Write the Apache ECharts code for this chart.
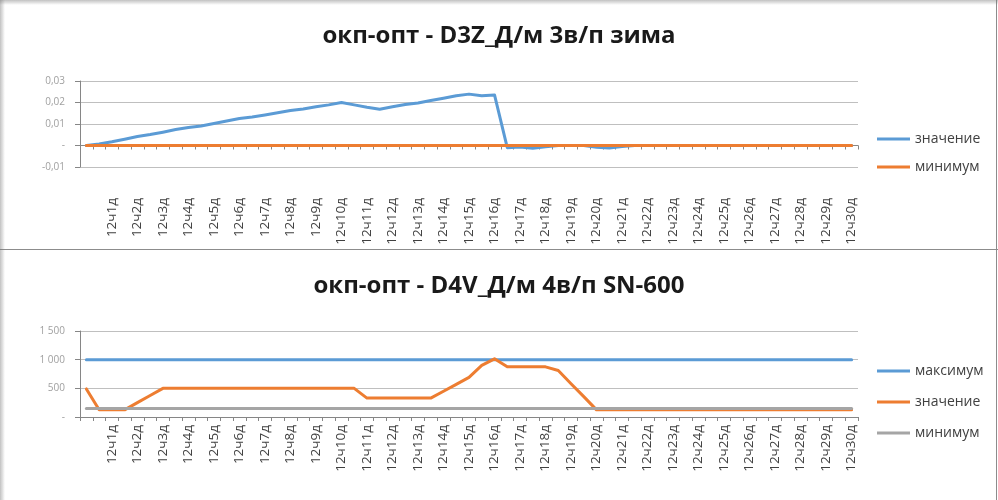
<!DOCTYPE html>
<html>
<head>
<meta charset="utf-8">
<script src="https://cdn.jsdelivr.net/npm/echarts@6/dist/echarts.min.js"></script>
<style>
  html, body { margin: 0; padding: 0; background: #ffffff; }
  #c1, #c2 { position: absolute; left: 0; width: 998px; height: 250px; }
  #c1 { top: 0; }
  #c2 { top: 250px; }
</style>
</head>
<body>
<div id="c1"></div>
<div id="c2"></div>
<script>
// Category labels (only even positions carry a printed label)
const categories = [
  "",
  "", "12ч1д", "", "12ч2д", "", "12ч3д", "", "12ч4д", "", "12ч5д",
  "", "12ч6д", "", "12ч7д", "", "12ч8д", "", "12ч9д", "", "12ч10д",
  "", "12ч11д", "", "12ч12д", "", "12ч13д", "", "12ч14д", "", "12ч15д",
  "", "12ч16д", "", "12ч17д", "", "12ч18д", "", "12ч19д", "", "12ч20д",
  "", "12ч21д", "", "12ч22д", "", "12ч23д", "", "12ч24д", "", "12ч25д",
  "", "12ч26д", "", "12ч27д", "", "12ч28д", "", "12ч29д", "", "12ч30д"
];

// Chart 1: окп-опт - D3Z_Д/м 3в/п зима
const title1 = "окп-опт - D3Z_Д/м 3в/п зима";
const value1 = [
  0, 0.0007, 0.0017, 0.0029, 0.0042, 0.0051, 0.0062, 0.0074, 0.0084, 0.0091,
  0.0102, 0.0114, 0.0126, 0.0133, 0.0142, 0.0152, 0.0163, 0.0170, 0.0180, 0.0189,
  0.0200, 0.0189, 0.0178, 0.0169, 0.0180, 0.0191, 0.0198, 0.0209, 0.0220, 0.0231,
  0.0239, 0.0231, 0.0235, -0.0010, -0.0007, -0.0013, -0.0006, 0, 0, 0,
  -0.0008, -0.0012, -0.0005, 0, 0, 0, 0, 0, 0, 0,
  0, 0, 0, 0, 0, 0, 0, 0, 0, 0,
  0
];
const min1 = [
  0, 0, 0, 0, 0, 0, 0, 0, 0, 0,
  0, 0, 0, 0, 0, 0, 0, 0, 0, 0,
  0, 0, 0, 0, 0, 0, 0, 0, 0, 0,
  0, 0, 0, 0, 0, 0, 0, 0, 0, 0,
  0, 0, 0, 0, 0, 0, 0, 0, 0, 0,
  0, 0, 0, 0, 0, 0, 0, 0, 0, 0,
  0
];

// Chart 2: окп-опт - D4V_Д/м 4в/п SN-600
const title2 = "окп-опт - D4V_Д/м 4в/п SN-600";
const max2 = [
  1000, 1000, 1000, 1000, 1000, 1000, 1000, 1000, 1000, 1000,
  1000, 1000, 1000, 1000, 1000, 1000, 1000, 1000, 1000, 1000,
  1000, 1000, 1000, 1000, 1000, 1000, 1000, 1000, 1000, 1000,
  1000, 1000, 1000, 1000, 1000, 1000, 1000, 1000, 1000, 1000,
  1000, 1000, 1000, 1000, 1000, 1000, 1000, 1000, 1000, 1000,
  1000, 1000, 1000, 1000, 1000, 1000, 1000, 1000, 1000, 1000,
  1000
];
const value2 = [
  490, 125, 125, 125, 250, 375, 500, 500, 500, 500,
  500, 500, 500, 500, 500, 500, 500, 500, 500, 500,
  500, 500, 330, 330, 330, 330, 330, 330, 450, 570,
  690, 900, 1015, 875, 875, 875, 875, 810, 580, 355,
  125, 125, 125, 125, 125, 125, 125, 125, 125, 125,
  125, 125, 125, 125, 125, 125, 125, 125, 125, 125,
  125
];
const min2 = [
  150, 150, 150, 150, 150, 150, 150, 150, 150, 150,
  150, 150, 150, 150, 150, 150, 150, 150, 150, 150,
  150, 150, 150, 150, 150, 150, 150, 150, 150, 150,
  150, 150, 150, 150, 150, 150, 150, 150, 150, 150,
  150, 150, 150, 150, 150, 150, 150, 150, 150, 150,
  150, 150, 150, 150, 150, 150, 150, 150, 150, 150,
  150
];

const FONT = "'Open Sans', 'Noto Sans', sans-serif";
const BLUE = "#5B9BD5", ORANGE = "#ED7D31", GREY = "#A5A5A5";
const AXIS = "#868686", GRID = "#BFBFBF", TEXT = "#404040";

function fmt1(v) {
  if (Math.abs(v) < 1e-9) return "-";
  return v.toFixed(2).replace(".", ",");
}
function fmt2(v) {
  if (Math.abs(v) < 1e-9) return "-";
  return String(v).replace(/\B(?=(\d{3})+(?!\d))/g, " ");
}

function frame(isTop) {
  const g = [
    { type: "rect", left: 996, top: 0, shape: { width: 1, height: 250 }, style: { fill: "#8c8c8c" }, silent: true }
  ];
  if (isTop) {
    g.push({ type: "rect", left: 0, top: 249, shape: { width: 998, height: 1 }, style: { fill: "#8c8c8c" }, silent: true });
    g.push({ type: "rect", left: 0, top: 0, shape: { width: 998, height: 5 },
      style: { fill: { type: "linear", x: 0, y: 0, x2: 0, y2: 1,
        colorStops: [{ offset: 0, color: "rgba(120,120,120,0.45)" }, { offset: 1, color: "rgba(120,120,120,0)" }] } }, silent: true });
  }
  g.push({ type: "rect", left: 0, top: 0, shape: { width: 5, height: 250 },
    style: { fill: { type: "linear", x: 0, y: 0, x2: 1, y2: 0,
      colorStops: [{ offset: 0, color: "rgba(120,120,120,0.45)" }, { offset: 1, color: "rgba(120,120,120,0)" }] } }, silent: true });
  return g;
}

function baseOption(title, yMin, yMax, yInt, fmt, labelMargin, legendTop, legendGap) {
  return {
    animation: false,
    textStyle: { fontFamily: FONT },
    title: {
      text: title, left: "center", top: 19,
      textStyle: { fontFamily: FONT, fontSize: 24, fontWeight: "bold", color: "#1a1a1a" }
    },
    legend: {
      orient: "vertical", left: 872, top: legendTop, itemGap: legendGap,
      icon: "rect", itemWidth: 33, itemHeight: 3,
      textStyle: { fontFamily: FONT, fontSize: 14, color: TEXT }
    },
    grid: { left: 80, right: 140, top: 81, bottom: 83, containLabel: false },
    xAxis: {
      type: "category", data: categories, boundaryGap: true,
      axisLine: { onZero: true, lineStyle: { color: AXIS, width: 1 } },
      axisTick: { show: true, interval: 0, length: 4, lineStyle: { color: AXIS } },
      axisLabel: { interval: 0, rotate: 90, margin: labelMargin, fontSize: 13.5, color: TEXT, fontFamily: FONT },
      splitLine: { show: false }
    },
    yAxis: {
      type: "value", min: yMin, max: yMax, interval: yInt,
      axisLine: { show: true, lineStyle: { color: AXIS } },
      axisTick: { show: true, length: 5, lineStyle: { color: AXIS } },
      axisLabel: { formatter: fmt, fontSize: 10, color: "#a0a0a0", margin: 15, fontFamily: FONT },
      splitLine: { show: true, lineStyle: { color: GRID, width: 1 } }
    }
  };
}

function line(name, data, color) {
  return {
    name: name, type: "line", data: data, symbol: "none", smooth: false,
    lineStyle: { width: 3, color: color, join: "round", cap: "round" },
    itemStyle: { color: color }
  };
}

const opt1 = baseOption(title1, -0.01, 0.03, 0.01, fmt1, 31, 127, 14);
opt1.series = [line("значение", value1, BLUE), line("минимум", min1, ORANGE)];
opt1.graphic = frame(true);

const opt2 = baseOption(title2, 0, 1500, 500, fmt2, 8, 109, 17);
opt2.series = [line("максимум", max2, BLUE), line("значение", value2, ORANGE), line("минимум", min2, GREY)];
opt2.graphic = frame(false);

echarts.init(document.getElementById("c1"), null, { renderer: "canvas" }).setOption(opt1);
echarts.init(document.getElementById("c2"), null, { renderer: "canvas" }).setOption(opt2);
</script>
</body>
</html>
